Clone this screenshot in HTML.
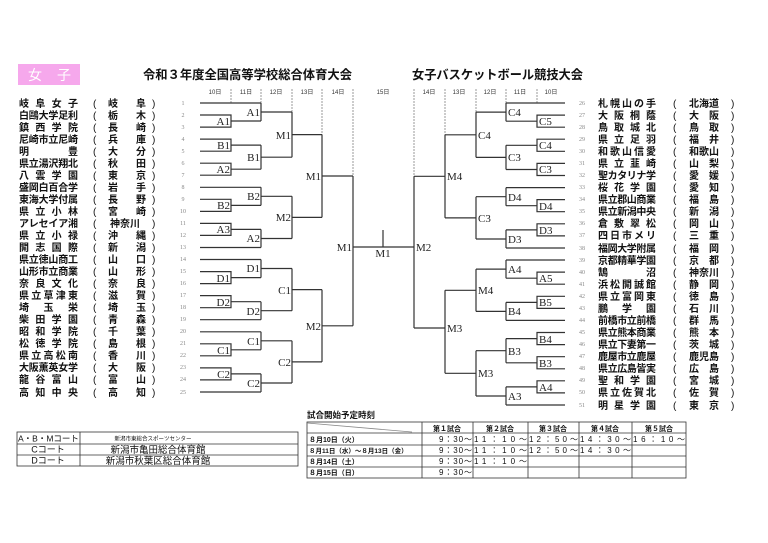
<!DOCTYPE html>
<html><head><meta charset="utf-8"><style>
html,body{margin:0;padding:0;background:#fff;}
svg{display:block;}
.t{font-family:"Liberation Sans","Noto Sans CJK JP",sans-serif;font-weight:bold;font-size:10px;fill:#111;}
.n{font-family:"Liberation Serif",serif;font-size:6px;fill:#888;text-anchor:middle;}
.l{font-family:"Liberation Serif",serif;font-size:11px;fill:#222;}
.e{text-anchor:end;}
.d{font-family:"Liberation Sans","Noto Sans CJK JP",sans-serif;font-size:6px;fill:#333;text-anchor:middle;}
.s{font-family:"Liberation Sans","Noto Sans CJK JP",sans-serif;font-weight:bold;font-size:7px;fill:#111;}
.c{font-family:"Liberation Sans","Noto Sans CJK JP",sans-serif;font-size:9.5px;fill:#111;}
</style></head><body>
<svg width="768" height="543" viewBox="0 0 768 543" xmlns="http://www.w3.org/2000/svg">
<rect x="18" y="64" width="62" height="21" fill="#f6a8ec"/>
<text x="28" y="80" style="font-family:'Liberation Sans','Noto Sans CJK JP',sans-serif;font-size:14px;fill:#fff">女</text>
<text x="57" y="80" style="font-family:'Liberation Sans','Noto Sans CJK JP',sans-serif;font-size:14px;fill:#fff">子</text>
<text x="143" y="79" class="t" style="font-size:12.5px" textLength="209" lengthAdjust="spacingAndGlyphs">令和３年度全国高等学校総合体育大会</text>
<text x="412" y="79" class="t" style="font-size:12.5px" textLength="171" lengthAdjust="spacingAndGlyphs">女子バスケットボール競技大会</text>

<g class="d">
<text x="215" y="94">10日</text><text x="246" y="94">11日</text><text x="276" y="94">12日</text><text x="307" y="94">13日</text><text x="338" y="94">14日</text><text x="383" y="94">15日</text>
<text x="429" y="94">14日</text><text x="459" y="94">13日</text><text x="490" y="94">12日</text><text x="520" y="94">11日</text><text x="551" y="94">10日</text>
</g>
<path d="M231 89V103M261 89V103M292 89V112M322 89V134.6M353 89V176M537 89V103M506 89V103M476 89V112M445 89V134.8M414 89V176.3" stroke="#999" stroke-width="1" stroke-dasharray="2,1" fill="none"/>

<path fill="none" stroke="#333" stroke-width="1.2" d="
M200 103H261
M200 115H231V127.1H200 M231 121H261
M261 103V121 M261 112H292
M200 139.1H231V151.2H200 M231 145.1H261
M200 163.2H231V175.2H200 M231 169.2H261
M261 145.1V169.2 M261 157.2H292
M292 112V157.2 M292 134.6H322
M200 187.3H261
M200 199.3H231V211.4H200 M231 205.4H261
M261 187.3V205.4 M261 196.3H292
M200 223.4H231V235.4H200 M231 229.4H261
M200 247.5H261
M261 229.4V247.5 M261 238.5H292
M292 196.3V238.5 M292 217.4H322
M322 134.6V217.4 M322 176H353
M200 259.5H261
M200 271.6H231V283.6H200 M231 277.6H261
M261 259.5V277.6 M261 268.5H292
M200 295.6H231V307.7H200 M231 301.7H261
M200 319.7H261
M261 301.7V319.7 M261 310.7H292
M292 268.5V310.7 M292 289.6H322
M200 331.8H261
M200 343.8H231V355.8H200 M231 349.8H261
M261 331.8V349.8 M261 340.8H292
M200 367.9H231V379.9H200 M231 373.9H261
M200 392H261
M261 373.9V392 M261 383H292
M292 340.8V383 M292 361.9H322
M322 289.6V361.9 M322 325.8H353
M353 176V325.8 M353 247H414
M383 230V247
M565 103H506
M565 115.1H537V127.2H565 M537 121.2H506
M506 103V121.2 M506 112.1H476
M565 139.2H537V151.3H565 M537 145.3H506
M565 163.4H537V175.5H565 M537 169.5H506
M506 145.3V169.5 M506 157.4H476
M476 112.1V157.4 M476 134.8H445
M565 187.6H506
M565 199.6H537V211.7H565 M537 205.7H506
M506 187.6V205.7 M506 196.7H476
M565 223.8H537V235.9H565 M537 229.9H506
M565 248H506
M506 229.9V248 M506 239H476
M476 196.7V239 M476 217.9H445
M445 134.8V217.9 M445 176.3H414
M565 260H506
M565 272.1H537V284.2H565 M537 278.2H506
M506 260V278.2 M506 269.1H476
M565 296.3H537V308.4H565 M537 302.4H506
M565 320.4H506
M506 302.4V320.4 M506 311.4H476
M476 269.1V311.4 M476 290.3H445
M565 332.5H537V344.6H565 M537 338.6H506
M565 356.7H537V368.8H565 M537 362.8H506
M506 338.6V362.8 M506 350.7H476
M565 380.8H537V392.9H565 M537 386.9H506
M565 405H506
M506 386.9V405 M506 396H476
M476 350.7V396 M476 373.3H445
M445 290.3V373.3 M445 328H414
M414 176.3V328"/>

<g class="l e">
<text x="230" y="125">A1</text><text x="230" y="149">B1</text><text x="230" y="173">A2</text><text x="230" y="209">B2</text><text x="230" y="233">A3</text><text x="230" y="282">D1</text><text x="230" y="306">D2</text><text x="230" y="354">C1</text><text x="230" y="378">C2</text>
<text x="260" y="116">A1</text><text x="260" y="161">B1</text><text x="260" y="200">B2</text><text x="260" y="242">A2</text><text x="260" y="272">D1</text><text x="260" y="315">D2</text><text x="260" y="345">C1</text><text x="260" y="387">C2</text>
<text x="291" y="139">M1</text><text x="291" y="221">M2</text><text x="291" y="294">C1</text><text x="291" y="366">C2</text>
<text x="321" y="180">M1</text><text x="321" y="330">M2</text>
<text x="352" y="251">M1</text>
</g>
<text x="383" y="257" class="l" text-anchor="middle">M1</text>
<g class="l">
<text x="539" y="125">C5</text><text x="539" y="149">C4</text><text x="539" y="173">C3</text><text x="539" y="210">D4</text><text x="539" y="234">D3</text><text x="539" y="282">A5</text><text x="539" y="306">B5</text><text x="539" y="343">B4</text><text x="539" y="367">B3</text><text x="539" y="391">A4</text>
<text x="508" y="116">C4</text><text x="508" y="161">C3</text><text x="508" y="201">D4</text><text x="508" y="243">D3</text><text x="508" y="273">A4</text><text x="508" y="315">B4</text><text x="508" y="355">B3</text><text x="508" y="400">A3</text>
<text x="478" y="139">C4</text><text x="478" y="222">C3</text><text x="478" y="294">M4</text><text x="478" y="377">M3</text>
<text x="447" y="180">M4</text><text x="447" y="332">M3</text>
<text x="416" y="251">M2</text>
</g>

<g class="t">
<text x="19" y="107" textLength="59" lengthAdjust="spacing">岐阜女子</text>
<text x="19" y="119" textLength="59" lengthAdjust="spacing">白鷗大学足利</text>
<text x="19" y="131" textLength="59" lengthAdjust="spacing">鎮西学院</text>
<text x="19" y="143" textLength="59" lengthAdjust="spacing">尼崎市立尼崎</text>
<text x="19" y="155" textLength="59" lengthAdjust="spacing">明豊</text>
<text x="19" y="167" textLength="59" lengthAdjust="spacing">県立湯沢翔北</text>
<text x="19" y="179" textLength="59" lengthAdjust="spacing">八雲学園</text>
<text x="19" y="191" textLength="59" lengthAdjust="spacing">盛岡白百合学</text>
<text x="19" y="203" textLength="59" lengthAdjust="spacing">東海大学付属</text>
<text x="19" y="215" textLength="59" lengthAdjust="spacing">県立小林</text>
<text x="19" y="227" textLength="59" lengthAdjust="spacing">アレセイア湘</text>
<text x="19" y="239" textLength="59" lengthAdjust="spacing">県立小禄</text>
<text x="19" y="251" textLength="59" lengthAdjust="spacing">開志国際</text>
<text x="19" y="263" textLength="59" lengthAdjust="spacing">県立徳山商工</text>
<text x="19" y="275" textLength="59" lengthAdjust="spacing">山形市立商業</text>
<text x="19" y="287" textLength="59" lengthAdjust="spacing">奈良文化</text>
<text x="19" y="299" textLength="59" lengthAdjust="spacing">県立草津東</text>
<text x="19" y="311" textLength="59" lengthAdjust="spacing">埼玉栄</text>
<text x="19" y="323" textLength="59" lengthAdjust="spacing">柴田学園</text>
<text x="19" y="335" textLength="59" lengthAdjust="spacing">昭和学院</text>
<text x="19" y="347" textLength="59" lengthAdjust="spacing">松徳学院</text>
<text x="19" y="359" textLength="59" lengthAdjust="spacing">県立高松南</text>
<text x="19" y="371" textLength="59" lengthAdjust="spacing">大阪薫英女学</text>
<text x="19" y="383" textLength="59" lengthAdjust="spacing">龍谷富山</text>
<text x="19" y="396" textLength="59" lengthAdjust="spacing">高知中央</text>

<text x="108" y="107" textLength="38" lengthAdjust="spacing">岐阜</text>
<text x="108" y="119" textLength="38" lengthAdjust="spacing">栃木</text>
<text x="108" y="131" textLength="38" lengthAdjust="spacing">長崎</text>
<text x="108" y="143" textLength="38" lengthAdjust="spacing">兵庫</text>
<text x="108" y="155" textLength="38" lengthAdjust="spacing">大分</text>
<text x="108" y="167" textLength="38" lengthAdjust="spacing">秋田</text>
<text x="108" y="179" textLength="38" lengthAdjust="spacing">東京</text>
<text x="108" y="191" textLength="38" lengthAdjust="spacing">岩手</text>
<text x="108" y="203" textLength="38" lengthAdjust="spacing">長野</text>
<text x="108" y="215" textLength="38" lengthAdjust="spacing">宮崎</text>
<text x="110" y="227">神奈川</text>
<text x="108" y="239" textLength="38" lengthAdjust="spacing">沖縄</text>
<text x="108" y="251" textLength="38" lengthAdjust="spacing">新潟</text>
<text x="108" y="263" textLength="38" lengthAdjust="spacing">山口</text>
<text x="108" y="275" textLength="38" lengthAdjust="spacing">山形</text>
<text x="108" y="287" textLength="38" lengthAdjust="spacing">奈良</text>
<text x="108" y="299" textLength="38" lengthAdjust="spacing">滋賀</text>
<text x="108" y="311" textLength="38" lengthAdjust="spacing">埼玉</text>
<text x="108" y="323" textLength="38" lengthAdjust="spacing">青森</text>
<text x="108" y="335" textLength="38" lengthAdjust="spacing">千葉</text>
<text x="108" y="347" textLength="38" lengthAdjust="spacing">島根</text>
<text x="108" y="359" textLength="38" lengthAdjust="spacing">香川</text>
<text x="108" y="371" textLength="38" lengthAdjust="spacing">大阪</text>
<text x="108" y="383" textLength="38" lengthAdjust="spacing">富山</text>
<text x="108" y="396" textLength="38" lengthAdjust="spacing">高知</text>

<text x="598" y="107" textLength="58" lengthAdjust="spacing">札幌山の手</text>
<text x="598" y="119" textLength="58" lengthAdjust="spacing">大阪桐蔭</text>
<text x="598" y="131" textLength="58" lengthAdjust="spacing">鳥取城北</text>
<text x="598" y="143" textLength="58" lengthAdjust="spacing">県立足羽</text>
<text x="598" y="155" textLength="58" lengthAdjust="spacing">和歌山信愛</text>
<text x="598" y="167" textLength="58" lengthAdjust="spacing">県立韮崎</text>
<text x="598" y="179" textLength="58" lengthAdjust="spacing">聖カタリナ学</text>
<text x="598" y="191" textLength="58" lengthAdjust="spacing">桜花学園</text>
<text x="598" y="203" textLength="58" lengthAdjust="spacing">県立郡山商業</text>
<text x="598" y="215" textLength="58" lengthAdjust="spacing">県立新潟中央</text>
<text x="598" y="227" textLength="58" lengthAdjust="spacing">倉敷翠松</text>
<text x="598" y="239" textLength="58" lengthAdjust="spacing">四日市メリ</text>
<text x="598" y="252" textLength="58" lengthAdjust="spacing">福岡大学附属</text>
<text x="598" y="264" textLength="58" lengthAdjust="spacing">京都精華学園</text>
<text x="598" y="276" textLength="58" lengthAdjust="spacing">鵠沼</text>
<text x="598" y="288" textLength="58" lengthAdjust="spacing">浜松開誠館</text>
<text x="598" y="300" textLength="58" lengthAdjust="spacing">県立富岡東</text>
<text x="598" y="312" textLength="58" lengthAdjust="spacing">鵬学園</text>
<text x="598" y="324" textLength="58" lengthAdjust="spacing">前橋市立前橋</text>
<text x="598" y="336" textLength="58" lengthAdjust="spacing">県立熊本商業</text>
<text x="598" y="348" textLength="58" lengthAdjust="spacing">県立下妻第一</text>
<text x="598" y="360" textLength="58" lengthAdjust="spacing">鹿屋市立鹿屋</text>
<text x="598" y="372" textLength="58" lengthAdjust="spacing">県立広島皆実</text>
<text x="598" y="384" textLength="58" lengthAdjust="spacing">聖和学園</text>
<text x="598" y="396" textLength="58" lengthAdjust="spacing">県立佐賀北</text>
<text x="598" y="409" textLength="58" lengthAdjust="spacing">明星学園</text>

<text x="689" y="107">北海道</text>
<text x="689" y="119" textLength="30" lengthAdjust="spacing">大阪</text>
<text x="689" y="131" textLength="30" lengthAdjust="spacing">鳥取</text>
<text x="689" y="143" textLength="30" lengthAdjust="spacing">福井</text>
<text x="689" y="155">和歌山</text>
<text x="689" y="167" textLength="30" lengthAdjust="spacing">山梨</text>
<text x="689" y="179" textLength="30" lengthAdjust="spacing">愛媛</text>
<text x="689" y="191" textLength="30" lengthAdjust="spacing">愛知</text>
<text x="689" y="203" textLength="30" lengthAdjust="spacing">福島</text>
<text x="689" y="215" textLength="30" lengthAdjust="spacing">新潟</text>
<text x="689" y="227" textLength="30" lengthAdjust="spacing">岡山</text>
<text x="689" y="239" textLength="30" lengthAdjust="spacing">三重</text>
<text x="689" y="252" textLength="30" lengthAdjust="spacing">福岡</text>
<text x="689" y="264" textLength="30" lengthAdjust="spacing">京都</text>
<text x="689" y="276">神奈川</text>
<text x="689" y="288" textLength="30" lengthAdjust="spacing">静岡</text>
<text x="689" y="300" textLength="30" lengthAdjust="spacing">徳島</text>
<text x="689" y="312" textLength="30" lengthAdjust="spacing">石川</text>
<text x="689" y="324" textLength="30" lengthAdjust="spacing">群馬</text>
<text x="689" y="336" textLength="30" lengthAdjust="spacing">熊本</text>
<text x="689" y="348" textLength="30" lengthAdjust="spacing">茨城</text>
<text x="689" y="360">鹿児島</text>
<text x="689" y="372" textLength="30" lengthAdjust="spacing">広島</text>
<text x="689" y="384" textLength="30" lengthAdjust="spacing">宮城</text>
<text x="689" y="396" textLength="30" lengthAdjust="spacing">佐賀</text>
<text x="689" y="409" textLength="30" lengthAdjust="spacing">東京</text>
</g>

<g class="t" style="font-weight:normal">
<text x="93" y="107">(</text><text x="93" y="119">(</text><text x="93" y="131">(</text><text x="93" y="143">(</text><text x="93" y="155">(</text><text x="93" y="167">(</text><text x="93" y="179">(</text><text x="93" y="191">(</text><text x="93" y="203">(</text><text x="93" y="215">(</text><text x="93" y="227">(</text><text x="93" y="239">(</text><text x="93" y="251">(</text><text x="93" y="263">(</text><text x="93" y="275">(</text><text x="93" y="287">(</text><text x="93" y="299">(</text><text x="93" y="311">(</text><text x="93" y="323">(</text><text x="93" y="335">(</text><text x="93" y="347">(</text><text x="93" y="359">(</text><text x="93" y="371">(</text><text x="93" y="383">(</text><text x="93" y="396">(</text>
<text x="152" y="107">)</text><text x="152" y="119">)</text><text x="152" y="131">)</text><text x="152" y="143">)</text><text x="152" y="155">)</text><text x="152" y="167">)</text><text x="152" y="179">)</text><text x="152" y="191">)</text><text x="152" y="203">)</text><text x="152" y="215">)</text><text x="152" y="227">)</text><text x="152" y="239">)</text><text x="152" y="251">)</text><text x="152" y="263">)</text><text x="152" y="275">)</text><text x="152" y="287">)</text><text x="152" y="299">)</text><text x="152" y="311">)</text><text x="152" y="323">)</text><text x="152" y="335">)</text><text x="152" y="347">)</text><text x="152" y="359">)</text><text x="152" y="371">)</text><text x="152" y="383">)</text><text x="152" y="396">)</text>
<text x="673" y="107">(</text><text x="673" y="119">(</text><text x="673" y="131">(</text><text x="673" y="143">(</text><text x="673" y="155">(</text><text x="673" y="167">(</text><text x="673" y="179">(</text><text x="673" y="191">(</text><text x="673" y="203">(</text><text x="673" y="215">(</text><text x="673" y="227">(</text><text x="673" y="239">(</text><text x="673" y="252">(</text><text x="673" y="264">(</text><text x="673" y="276">(</text><text x="673" y="288">(</text><text x="673" y="300">(</text><text x="673" y="312">(</text><text x="673" y="324">(</text><text x="673" y="336">(</text><text x="673" y="348">(</text><text x="673" y="360">(</text><text x="673" y="372">(</text><text x="673" y="384">(</text><text x="673" y="396">(</text><text x="673" y="409">(</text>
<text x="731" y="107">)</text><text x="731" y="119">)</text><text x="731" y="131">)</text><text x="731" y="143">)</text><text x="731" y="155">)</text><text x="731" y="167">)</text><text x="731" y="179">)</text><text x="731" y="191">)</text><text x="731" y="203">)</text><text x="731" y="215">)</text><text x="731" y="227">)</text><text x="731" y="239">)</text><text x="731" y="252">)</text><text x="731" y="264">)</text><text x="731" y="276">)</text><text x="731" y="288">)</text><text x="731" y="300">)</text><text x="731" y="312">)</text><text x="731" y="324">)</text><text x="731" y="336">)</text><text x="731" y="348">)</text><text x="731" y="360">)</text><text x="731" y="372">)</text><text x="731" y="384">)</text><text x="731" y="396">)</text><text x="731" y="409">)</text>
</g>

<g class="n">
<text x="183" y="105">1</text><text x="183" y="117">2</text><text x="183" y="129">3</text><text x="183" y="141">4</text><text x="183" y="153">5</text><text x="183" y="165">6</text><text x="183" y="177">7</text><text x="183" y="189">8</text><text x="183" y="201">9</text><text x="183" y="213">10</text><text x="183" y="225">11</text><text x="183" y="237">12</text><text x="183" y="249">13</text><text x="183" y="261">14</text><text x="183" y="273">15</text><text x="183" y="285">16</text><text x="183" y="297">17</text><text x="183" y="309">18</text><text x="183" y="321">19</text><text x="183" y="333">20</text><text x="183" y="345">21</text><text x="183" y="357">22</text><text x="183" y="369">23</text><text x="183" y="381">24</text><text x="183" y="394">25</text>
<text x="582" y="105">26</text><text x="582" y="117">27</text><text x="582" y="129">28</text><text x="582" y="141">29</text><text x="582" y="153">30</text><text x="582" y="165">31</text><text x="582" y="177">32</text><text x="582" y="189">33</text><text x="582" y="201">34</text><text x="582" y="213">35</text><text x="582" y="225">36</text><text x="582" y="237">37</text><text x="582" y="250">38</text><text x="582" y="262">39</text><text x="582" y="274">40</text><text x="582" y="286">41</text><text x="582" y="298">42</text><text x="582" y="310">43</text><text x="582" y="322">44</text><text x="582" y="334">45</text><text x="582" y="346">46</text><text x="582" y="358">47</text><text x="582" y="370">48</text><text x="582" y="382">49</text><text x="582" y="394">50</text><text x="582" y="407">51</text>
</g>

<!-- court table -->
<g fill="none" stroke="#333" stroke-width="0.8">
<rect x="17" y="432" width="281" height="34"/>
<path d="M17 444H298M17 455H298M80 432V466"/>
</g>
<text x="18" y="441.5" class="c" style="font-size:8.5px">A・B・Mコート</text>
<text x="153" y="440.5" class="c" style="font-size:5.5px" text-anchor="middle">新潟市東総合スポーツセンター</text>
<text x="48" y="452.5" class="c" text-anchor="middle" style="font-size:9px">Cコート</text>
<text x="158" y="453" class="c" text-anchor="middle">新潟市亀田総合体育館</text>
<text x="48" y="463.5" class="c" text-anchor="middle" style="font-size:9px">Dコート</text>
<text x="158" y="464" class="c" text-anchor="middle">新潟市秋葉区総合体育館</text>

<!-- schedule -->
<text x="307" y="418" class="s" style="font-size:8.5px">試合開始予定時刻</text>
<g fill="none" stroke="#333" stroke-width="0.8">
<rect x="307" y="422" width="379" height="56"/>
<path d="M307 433H686M307 445H686M307 456H686M307 467H686M422 422V478M473 422V478M528 422V478M579 422V478M632 422V478"/>
<path d="M307 423L412 432" stroke="#888"/>
</g>
<g class="s" text-anchor="middle">
<text x="447" y="431">第１試合</text><text x="500" y="431">第２試合</text><text x="553" y="431">第３試合</text><text x="605" y="431">第４試合</text><text x="659" y="431">第５試合</text>
</g>
<g class="s">
<text x="309" y="442">８月10日（火）</text>
<text x="309" y="453" style="font-size:6.5px">８月11日（水）～８月13日（金）</text>
<text x="309" y="464">８月14日（土）</text>
<text x="309" y="475">８月15日（日）</text>
<g style="font-size:8px;font-weight:normal">
<text x="439" y="442" textLength="33" lengthAdjust="spacing">9：30～</text>
<text x="474" y="442" textLength="53" lengthAdjust="spacing">11：10～</text>
<text x="529" y="442" textLength="49" lengthAdjust="spacing">12：50～</text>
<text x="580" y="442" textLength="51" lengthAdjust="spacing">14：30～</text>
<text x="633" y="442" textLength="52" lengthAdjust="spacing">16：10～</text>
<text x="439" y="453" textLength="33" lengthAdjust="spacing">9：30～</text>
<text x="474" y="453" textLength="53" lengthAdjust="spacing">11：10～</text>
<text x="529" y="453" textLength="49" lengthAdjust="spacing">12：50～</text>
<text x="580" y="453" textLength="51" lengthAdjust="spacing">14：30～</text>
<text x="439" y="464" textLength="33" lengthAdjust="spacing">9：30～</text>
<text x="474" y="464" textLength="53" lengthAdjust="spacing">11：10～</text>
<text x="439" y="475" textLength="33" lengthAdjust="spacing">9：30～</text>
</g>
</g>
</svg>
</body></html>
